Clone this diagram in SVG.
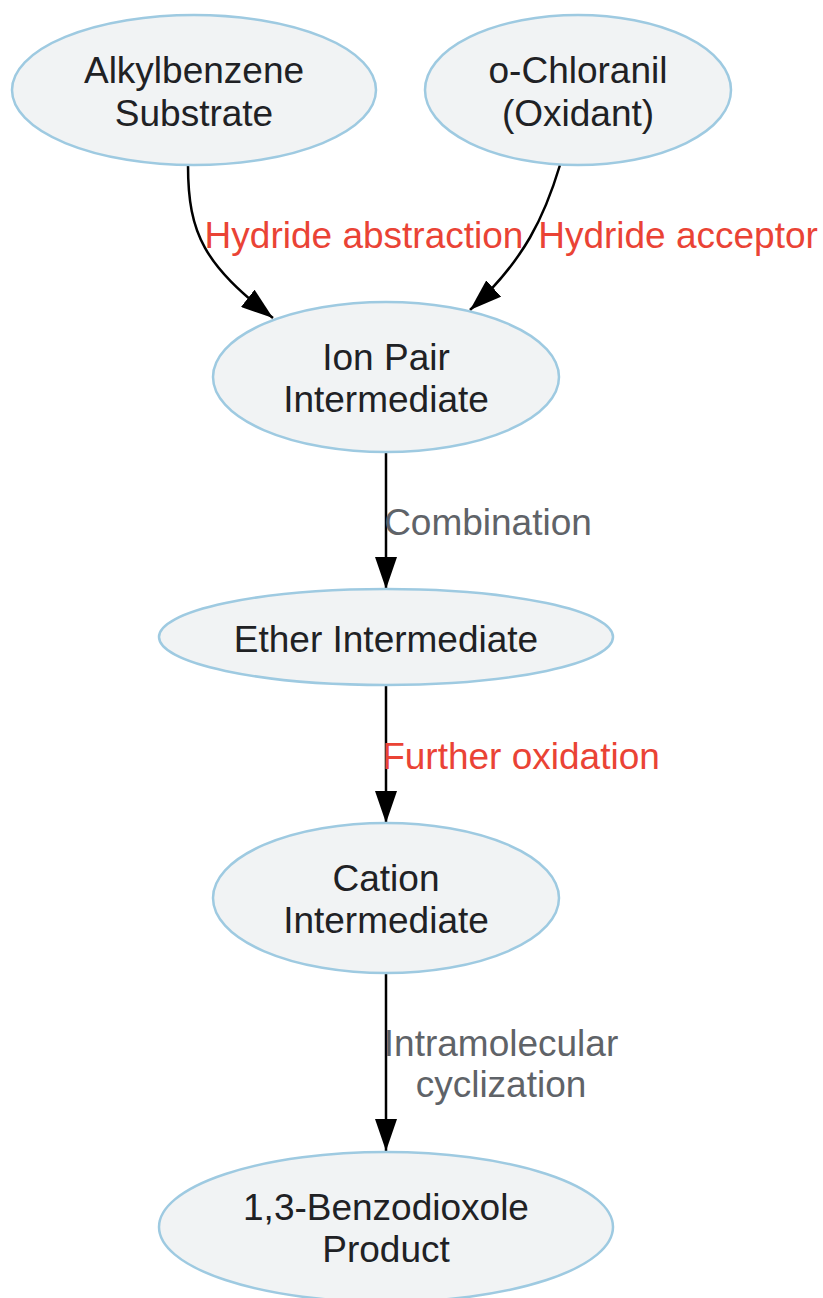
<svg xmlns="http://www.w3.org/2000/svg" width="823" height="1298" viewBox="0 0 823 1298">
<style>
.node ellipse{fill:#f1f3f4;stroke:#9ecae1;stroke-width:2.5}
.node text{font-family:"Liberation Sans",Arial,sans-serif;font-size:37px;fill:#202124;text-anchor:middle}
.edge path{fill:none;stroke:#000;stroke-width:2.5}
.lbl{font-family:"Liberation Sans",Arial,sans-serif;font-size:37px;text-anchor:middle}
.red{fill:#ea4335}
.grey{fill:#5f6368}
</style>
<defs>
<marker id="arr" viewBox="0 0 32 22" refX="32" refY="11" markerWidth="32" markerHeight="22" markerUnits="userSpaceOnUse" orient="auto">
<polygon points="0,0 32,11 0,22" fill="#000"/>
</marker>
</defs>
<rect width="823" height="1298" fill="#fff"/>
<g id="connectors">
<g class="edge"><path d="M188,165 C188,235 205,265 273,318" marker-end="url(#arr)"/><text class="lbl red" x="364" y="248">Hydride abstraction</text></g>
<g class="edge"><path d="M560,165 C545,215 525,260 470,310" marker-end="url(#arr)"/><text class="lbl red" x="678" y="248">Hydride acceptor</text></g>
<g class="edge"><path d="M386,452 L386,589" marker-end="url(#arr)"/><text class="lbl grey" x="488" y="535">Combination</text></g>
<g class="edge"><path d="M386,686 L386,823" marker-end="url(#arr)"/><text class="lbl red" x="521" y="769">Further oxidation</text></g>
<g class="edge"><path d="M386,973 L386,1151" marker-end="url(#arr)"/><text class="lbl grey" x="501" y="1056">Intramolecular</text><text class="lbl grey" x="501" y="1097">cyclization</text></g>
</g>
<g id="alkylbenzene" class="node"><ellipse cx="194" cy="90" rx="182" ry="75"/><text x="194" y="83">Alkylbenzene</text><text x="194" y="126">Substrate</text></g>
<g id="chloranil" class="node"><ellipse cx="578" cy="90" rx="153" ry="75"/><text x="578" y="83">o-Chloranil</text><text x="578" y="126">(Oxidant)</text></g>
<g id="ionpair" class="node"><ellipse cx="386" cy="377" rx="173" ry="75"/><text x="386" y="370">Ion Pair</text><text x="386" y="412">Intermediate</text></g>
<g id="ether" class="node"><ellipse cx="386" cy="637" rx="227" ry="48"/><text x="386" y="652">Ether Intermediate</text></g>
<g id="cation" class="node"><ellipse cx="386" cy="898" rx="173" ry="75"/><text x="386" y="891">Cation</text><text x="386" y="933">Intermediate</text></g>
<g id="product" class="node"><ellipse cx="386" cy="1227" rx="227" ry="75"/><text x="386" y="1220">1,3-Benzodioxole</text><text x="386" y="1262">Product</text></g>
</svg>
